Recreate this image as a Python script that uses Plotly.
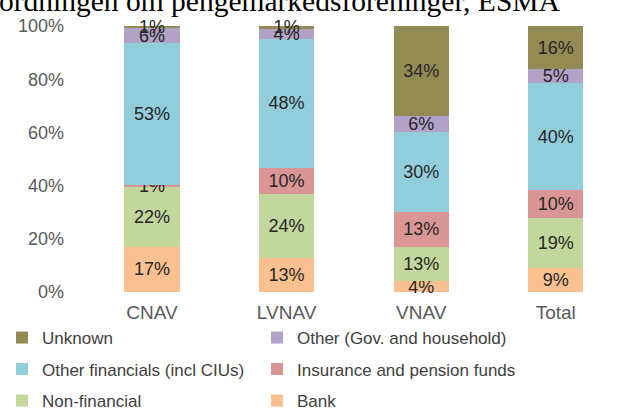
import plotly.graph_objects as go

categories = ["CNAV", "LVNAV", "VNAV", "Total"]
series_names = ["Bank", "Non-financial", "Insurance and pension funds",
                "Other financials (incl CIUs)", "Other (Gov. and household)", "Unknown"]
bank = [17, 12.6, 4, 9]
non_financial = [22.4, 24.4, 13, 19]
insurance = [1, 9.8, 13, 10.2]
other_financials = [53.2, 48.2, 30, 40.4]
other_gov = [5.6, 4, 6, 5.2]
unknown = [0.8, 1, 34, 16.2]
values = [bank, non_financial, insurance, other_financials, other_gov, unknown]
colors = ["#fac090", "#c3d69b", "#d99694", "#92cddc", "#b3a2c7", "#948a54"]
tick_vals = [0, 20, 40, 60, 80, 100]
tick_text = ["0%", "20%", "40%", "60%", "80%", "100%"]
heading = "ordningen om pengemarkedsforeninger, ESMA"

PL, PR, PT, PB = 65, 9, 26, 118
PH = 410 - PT - PB
PW = 632 - PL - PR

def py(p):
    return (410 - PB - p) / PH

def px(p):
    return (p - PL) / PW

# legend slot per series: (column, row)
slots = [(1, 2), (0, 2), (1, 1), (0, 1), (1, 0), (0, 0)]
col_x = [2, 257]
row_y = [338, 369.5, 401]

leg_common = dict(orientation="h", xanchor="left", yanchor="middle",
                  font=dict(family="Liberation Sans, Arial", size=17, color="#404040"),
                  bgcolor="rgba(0,0,0,0)", borderwidth=0, itemclick=False)

fig = go.Figure()
legends = {}
for i, (name, vals, col) in enumerate(zip(series_names, values, colors)):
    key = "legend" if i == 0 else f"legend{i + 1}"
    c, r = slots[i]
    legends[key] = dict(x=px(col_x[c]), y=py(row_y[r]), **leg_common)
    fig.add_trace(go.Bar(
        x=categories, y=vals, name=name, marker=dict(color=col, line=dict(width=0)),
        texttemplate="%{y:.0f}%", textposition="inside", insidetextanchor="middle",
        constraintext="none", textangle=0, cliponaxis=False,
        textfont=dict(family="Liberation Sans, Arial", size=18, color="#262626"),
        width=0.41, legend=key, hoverinfo="skip",
    ))

fig.update_layout(
    barmode="stack",
    width=632, height=410,
    margin=dict(l=PL, r=PR, t=PT, b=PB, autoexpand=False),
    paper_bgcolor="white", plot_bgcolor="white",
    showlegend=True,
    xaxis=dict(range=[-0.647, 3.5], showgrid=False, showline=False, zeroline=False,
               ticks="outside", ticklen=3, tickcolor="rgba(0,0,0,0)",
               tickfont=dict(family="Liberation Sans, Arial", size=19, color="#595959"),
               fixedrange=True),
    yaxis=dict(range=[0, 100], tickvals=tick_vals, ticktext=tick_text,
               showgrid=False, showline=False, zeroline=False,
               tickfont=dict(family="Liberation Sans, Arial", size=18, color="#595959"),
               fixedrange=True),
    annotations=[dict(
        text=heading, xref="paper", yref="paper", x=px(-3), y=py(1),
        xanchor="left", yanchor="middle", showarrow=False,
        font=dict(family="Liberation Serif, Times New Roman", size=29.5, color="#000000"),
    )],
)
fig.update_layout(**legends)

fig.write_html("out.html", config={"displayModeBar": False},
               post_script="document.body.style.margin='0';")
